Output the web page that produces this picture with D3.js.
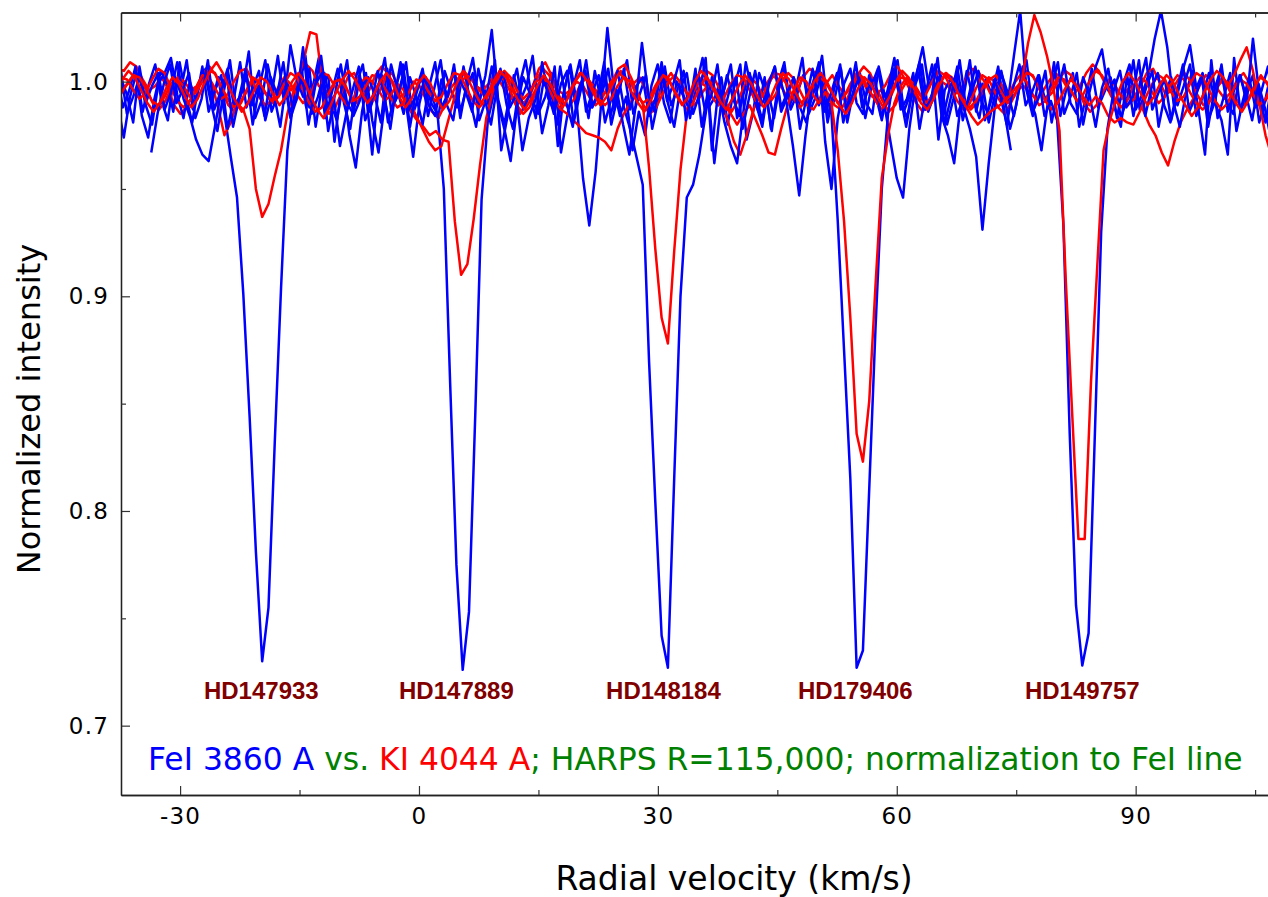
<!DOCTYPE html>
<html>
<head>
<meta charset="utf-8">
<script src="https://cdn.jsdelivr.net/npm/d3@7"></script>
<style>
  body { margin: 0; background: white; }
</style>
</head>
<body>
<div id="chart"></div>
<script>
// stars and where their lines sit (km/s)
const stars = ['HD147933', 'HD147889', 'HD148184', 'HD179406', 'HD149757']
const labelVel = [-19.8, 4.7, 30.7, 54.8, 83.3]
const feStart = [-37.86, -37.96, -38.26, -38.26, -33.62]
const kStart = [-37.86, -38.16, -38.26, -38.26, -38.06]
const velStep = 0.79

const xTicks = [-30, 0, 30, 60, 90]
const xMinor = [-15, 15, 45, 75, 105]
const yTicks = [0.7, 0.8, 0.9, 1.0]
const yMinor = [0.75, 0.85, 0.95]

// FeI 3860 A, normalized intensity
const fe147933 = [
  0.990, 0.974, 0.993, 1.004, 0.986, 0.999, 1.008, 0.991, 0.982, 1.003,
  0.995, 1.010, 0.987, 0.998, 1.006, 0.990, 1.002, 0.985, 0.965,
  0.946, 0.901, 0.844, 0.781, 0.730, 0.755, 0.832, 0.904, 0.968, 0.992,
  1.004, 0.988, 0.997, 1.011, 0.983, 0.994, 1.006, 0.990, 0.978, 0.999,
  1.008, 0.986, 0.995, 1.003, 0.981, 0.992, 1.009, 0.987, 0.965, 0.990,
  1.002, 0.994, 0.983, 1.005, 0.996, 0.988, 1.007, 0.992, 0.979, 1.000,
  0.989, 1.010, 0.968, 0.984, 1.003, 0.991, 0.998, 1.012, 0.986, 0.993,
  1.004, 0.970, 0.996, 1.008, 0.990, 0.955, 0.933, 0.958, 0.994, 1.006,
  0.987, 0.999, 1.010, 0.985, 0.994, 1.003, 0.978, 0.992, 1.007, 0.989,
  0.996, 1.005, 0.983, 0.998, 1.011, 0.988, 0.993, 1.002, 0.980, 0.997,
  1.008, 0.973, 0.985, 1.004, 0.995, 0.977, 0.999, 1.009, 0.987, 0.994,
  1.003, 0.989, 0.998, 1.012, 0.984, 0.992, 1.006, 0.981, 0.996, 1.004,
  0.990, 0.985, 1.007, 0.993, 0.999, 1.010, 0.986, 0.994, 1.003, 1.016,
  0.997, 1.008, 0.984, 0.975, 0.962, 0.989, 1.005, 0.992, 0.983, 1.001,
  0.994, 1.007, 0.986, 0.968
]
const fe147889 = [
  1.003, 0.988, 0.996, 1.007, 0.984, 0.974, 0.992, 1.005, 0.999, 0.986,
  1.009, 0.993, 0.981, 0.998, 1.004, 0.990, 0.977, 0.995, 1.010, 0.987,
  0.996, 1.014, 0.983, 0.991, 1.008, 0.994, 0.979, 1.001, 0.988, 0.997,
  1.012, 0.985, 0.993, 1.004, 0.990, 0.982, 0.999, 0.975, 0.960, 0.986,
  1.002, 0.994, 0.981, 1.006, 0.989, 0.997, 1.009, 0.984, 0.993, 1.001, 0.990,
  0.985, 0.950, 0.860, 0.775, 0.726, 0.753, 0.845, 0.945, 0.982, 0.995,
  1.006, 0.989, 0.978, 0.998, 1.010, 0.992, 0.985, 1.003, 0.996, 0.980,
  0.994, 1.007, 0.988, 0.999, 0.983, 1.005, 0.991, 1.025, 0.997, 0.984,
  0.993, 0.968, 0.986, 0.975, 0.998, 1.008, 0.990, 0.981, 1.000, 0.994,
  0.987, 1.006, 0.979, 0.996, 0.962, 0.988, 1.003, 0.992, 0.984, 1.009,
  0.995, 0.986, 1.002, 0.978, 0.993, 1.007, 0.989, 0.997, 1.011, 0.985,
  0.992, 1.004, 0.981, 0.996, 1.008, 0.987, 0.994, 1.002, 0.983, 0.998,
  1.006, 0.990, 0.972, 0.955, 0.946, 0.978, 0.999, 1.008, 0.986, 0.994,
  1.003, 0.980, 0.992, 1.010, 0.988, 0.996, 1.005, 0.982, 0.991, 1.004,
  0.995, 0.978, 0.989, 1.007, 0.993, 0.985, 0.968, 0.990, 1.009, 0.984,
  0.997, 1.004, 0.979, 0.992, 1.006, 0.988, 0.995, 1.002, 0.983, 0.999,
  1.008, 0.987, 0.994, 1.003, 1.020, 1.033, 1.016, 0.990, 0.979, 0.995,
  1.005, 0.986, 0.966, 1.010, 0.983, 0.993, 1.004, 0.977, 0.991, 1.002,
  0.988, 0.996, 1.007, 0.985
]
const fe148184 = [
  0.997, 1.006, 0.985, 0.993, 1.002, 0.989, 0.980, 0.999, 1.004, 1.011,
  0.994, 0.983, 1.000, 0.991, 1.007, 0.986, 0.996, 1.003, 0.978, 0.992,
  1.009, 0.988, 0.997, 1.005, 0.982, 0.994, 1.012, 0.990, 1.017, 1.001,
  0.993, 1.006, 0.979, 0.998, 1.003, 0.972, 0.995, 1.010, 0.984, 0.991,
  1.004, 0.982, 0.967, 0.990, 1.008, 0.996, 0.985, 1.002, 0.993, 0.980,
  0.997, 1.009, 0.988, 0.994, 1.005, 0.983, 0.999, 1.011, 0.990, 1.003,
  1.024, 0.992, 0.980, 0.996, 1.006, 0.987, 0.994, 1.001, 0.976, 0.989,
  1.007, 0.967, 0.984, 0.998, 1.010, 0.986, 0.995, 1.003, 0.981, 0.992,
  1.005, 0.988, 0.978, 0.965, 0.952, 0.870, 0.804, 0.742, 0.727, 0.815,
  0.900, 0.946, 0.952, 0.966, 0.985, 1.002, 0.989, 0.997, 1.008, 0.983,
  0.994, 1.004, 0.990, 0.979, 0.998, 1.007, 0.986, 0.993, 1.002, 0.988,
  0.981, 0.996, 1.009, 0.972, 0.950, 0.983, 0.999, 1.006, 0.990, 0.985,
  1.003, 0.994, 0.982, 0.997, 1.011, 0.987, 0.992, 1.004, 0.978, 0.995,
  1.008, 0.973, 0.996, 1.002, 0.984, 0.993, 1.010, 0.986, 0.999, 0.981,
  0.994, 1.005, 0.990, 1.012, 1.033, 0.996, 0.984, 1.003, 0.991, 0.998,
  1.009, 0.985, 0.993, 1.004, 0.980, 0.995, 1.007, 1.015, 0.996, 1.001,
  0.983, 0.992, 1.010, 0.987, 0.997, 1.005, 0.979, 0.994, 1.002, 0.989,
  0.998, 1.008, 0.984, 0.993, 1.004, 0.990, 0.982, 0.966, 1.011, 0.986,
  0.995, 1.003, 0.981, 0.992, 1.006
]
const fe179406 = [
  0.985, 1.002, 0.994, 0.981, 1.007, 0.990, 0.998, 1.004, 0.987, 0.995,
  1.009, 0.992, 0.984, 0.973, 0.966, 0.963, 0.979, 0.996, 1.006, 0.989,
  0.993, 1.003, 0.980, 0.997, 1.010, 0.986, 0.994, 1.001, 0.983, 0.992,
  1.016, 0.988, 0.999, 1.004, 0.977, 0.993, 1.008, 0.990, 0.985, 1.002,
  0.995, 0.966, 0.998, 1.011, 0.987, 0.993, 1.003, 0.979, 0.996, 1.006,
  0.989, 0.984, 1.001, 0.993, 1.008, 0.986, 0.997, 1.004, 0.982, 0.991,
  1.007, 0.990, 0.978, 0.963, 0.988, 1.002, 0.995, 0.983, 1.009, 0.992,
  0.986, 0.999, 1.005, 0.981, 0.994, 1.010, 0.988, 0.996, 1.003, 0.980,
  0.993, 1.006, 0.987, 0.998, 1.002, 0.984, 0.992, 1.009, 0.990, 0.979,
  0.997, 1.004, 0.985, 0.994, 1.011, 0.968, 0.996, 0.981, 0.970, 0.962,
  0.986, 1.003, 0.993, 0.982, 0.999, 1.007, 0.988, 0.995, 1.002, 0.978,
  0.992, 1.006, 0.989, 0.996, 0.985, 0.935, 0.875, 0.815, 0.727, 0.735,
  0.810, 0.885, 0.950, 0.985, 1.004, 0.991, 0.983, 0.998, 1.009, 0.987,
  0.994, 1.002, 0.980, 0.993, 1.007, 0.988, 0.978, 0.965, 0.931, 0.962,
  0.989, 1.004, 0.995, 0.984, 0.999, 1.010, 0.986, 0.993, 1.005, 0.981,
  0.996, 1.008, 0.990, 0.985, 1.002, 0.994, 0.979, 0.997, 1.006, 0.988,
  0.979, 1.003, 0.984, 0.999, 1.011, 0.987, 0.995, 1.001, 0.982, 0.994,
  1.007, 1.017, 0.997, 1.004, 0.983, 0.991, 1.008, 0.986, 0.996, 1.003,
  0.990, 1.020, 0.994, 0.981, 0.999
]
const fe149757 = [
  0.967, 0.985, 0.999, 1.008, 0.990, 0.996, 1.004, 0.983, 0.992, 1.010,
  0.987, 0.995, 1.003, 0.979, 0.993, 1.006, 0.989, 0.998, 0.984, 1.002,
  0.994, 1.009, 0.986, 0.991, 1.004, 0.980, 0.997, 1.012, 0.988, 0.993,
  0.970, 0.985, 0.996, 1.007, 0.982, 0.990, 1.005, 0.994, 0.978, 0.999,
  1.008, 0.987, 0.993, 1.003, 0.984, 0.997, 1.010, 0.989, 0.982, 1.001,
  0.995, 0.986, 1.006, 0.992, 0.980, 0.998, 1.004, 0.988, 0.994, 0.968,
  0.983, 0.991, 1.002, 0.996, 0.985, 1.007, 0.990, 0.979, 0.997, 1.005,
  0.988, 0.993, 1.009, 0.984, 0.996, 0.980, 0.966, 0.989, 1.018, 0.994,
  0.986, 1.006, 0.991, 0.999, 1.010, 0.982, 0.995, 1.003, 0.987, 0.993,
  1.008, 0.985, 0.997, 1.002, 0.978, 0.992, 1.005, 0.989, 0.996, 0.983,
  1.001, 0.990, 0.970, 0.947, 0.975, 0.998, 1.007, 0.986, 0.994, 1.004,
  0.981, 0.993, 1.009, 0.988, 0.997, 1.002, 0.984, 0.991, 1.006, 0.995,
  0.979, 0.996, 1.004, 0.987, 0.992, 1.011, 0.985, 0.998, 1.003, 0.982,
  0.994, 1.007, 0.990, 0.986, 1.001, 0.993, 0.980, 0.997, 1.008, 0.989,
  0.995, 1.003, 0.984, 0.991, 0.982, 0.933, 0.836, 0.756, 0.728, 0.743,
  0.836, 0.930, 0.978, 0.996, 1.005, 0.988, 0.993, 1.010, 0.984, 0.997,
  1.004, 0.989, 0.981, 0.995, 1.008, 0.986, 0.993, 1.002, 0.979, 0.996,
  1.006, 0.990, 0.985, 1.003, 0.994, 0.982, 0.999, 0.988, 0.973
]

// KI 4044 A, normalized intensity
const k147933 = [
  1.006, 1.005, 1.009, 1.007, 1.001, 0.996, 0.998, 1.002, 0.997, 0.989,
  0.985, 0.988, 0.994, 1.000, 1.004, 0.999, 0.988, 0.975, 0.981, 0.990,
  0.987, 0.978, 0.950, 0.937, 0.943, 0.956, 0.968, 0.985, 0.996, 1.004,
  1.008, 1.005, 0.998, 0.995, 0.997, 1.001, 1.000, 0.993, 0.990, 0.994,
  0.996, 1.003, 1.007, 1.004, 0.997, 0.993, 0.995, 1.000, 0.998, 0.992,
  0.986, 0.983, 0.989, 0.997, 1.001, 1.005, 1.002, 0.998, 0.996, 0.999,
  1.003, 0.999, 0.994, 0.991, 0.985, 0.990, 0.998, 1.006, 1.009, 1.003,
  0.996, 0.994, 0.996, 1.000, 0.998, 0.993, 0.989, 0.992, 0.998, 1.002,
  1.005, 1.001, 0.999, 1.002, 0.996, 0.990, 0.993, 1.000, 1.004, 0.999,
  0.993, 0.988, 0.990, 0.995, 0.999, 0.996, 0.990, 0.982, 0.972, 0.966,
  0.975, 0.986, 0.994, 0.998, 1.003, 1.001, 0.995, 0.991, 0.996, 1.002,
  1.006, 1.004, 0.999, 0.994, 0.989, 0.987, 0.992, 0.999, 1.003, 0.997,
  0.993, 0.995, 0.998, 1.004, 1.007, 1.002, 0.996, 0.990, 0.986, 0.991,
  0.997, 1.000, 0.998, 0.994, 0.996, 1.002, 1.006, 1.004, 0.999, 0.993,
  0.988, 0.985, 0.990, 0.996, 0.998, 0.995, 0.992, 0.995, 1.000, 1.004,
  1.002, 0.997, 0.994, 0.998, 1.004, 1.008, 1.005, 0.999, 0.993, 0.990,
  0.994, 0.998, 0.993, 0.987, 0.980, 0.975, 0.967, 0.961, 0.972, 0.981,
  0.987, 0.992, 0.998, 1.003, 1.001, 0.996, 0.992, 0.995, 1.001, 1.004,
  0.999, 0.992, 0.988, 0.994, 1.001
]
const k147889 = [
  0.993, 0.995, 0.999, 1.003, 1.001, 0.996, 0.990, 0.987, 0.991, 0.998,
  1.002, 1.000, 0.996, 0.998, 1.004, 1.007, 1.003, 0.996, 0.989, 0.986,
  0.990, 0.996, 1.001, 0.999, 0.994, 0.990, 0.993, 0.998, 0.996, 1.001,
  1.010, 1.023, 1.022, 0.998, 0.985, 0.988, 0.995, 1.002, 1.004, 0.999,
  0.993, 0.991, 0.995, 1.002, 1.004, 0.998, 0.991, 0.986, 0.982, 0.979,
  0.975, 0.977, 0.973, 0.972, 0.935, 0.910, 0.915, 0.936, 0.961, 0.983,
  0.995, 1.002, 1.004, 0.999, 0.992, 0.990, 0.994, 1.001, 1.006, 1.003,
  0.997, 0.991, 0.988, 0.992, 0.999, 1.002, 0.998, 0.993, 0.995, 1.000,
  1.006, 1.008, 1.002, 0.995, 0.989, 0.985, 0.988, 0.994, 1.000, 1.003,
  0.999, 0.994, 0.996, 1.001, 1.005, 1.003, 0.997, 0.990, 0.986, 0.991,
  0.998, 1.002, 0.999, 0.993, 0.990, 0.994, 1.000, 1.004, 1.001, 0.995,
  0.989, 0.987, 0.992, 0.999, 1.003, 0.998, 0.994, 0.997, 1.003, 1.007,
  1.004, 0.997, 0.991, 0.986, 0.989, 0.996, 1.001, 0.999, 0.994, 0.990,
  0.993, 0.999, 1.004, 1.002, 0.996, 0.991, 0.987, 0.990, 0.996, 1.001,
  1.003, 0.998, 0.992, 0.994, 1.000, 1.005, 1.002, 0.996, 0.992, 0.995,
  1.001, 1.005, 1.003, 0.997, 0.990, 0.986, 0.989, 0.995, 1.001, 0.998,
  0.993, 0.989, 0.992, 0.998, 1.004, 1.006, 1.000, 0.994, 0.996, 1.001,
  1.004, 1.000, 0.994, 0.989, 0.991, 0.997, 1.002, 0.999, 0.993, 0.988,
  0.991, 0.997, 1.002, 1.000, 0.995
]
const k148184 = [
  0.998, 1.002, 1.001, 0.996, 0.992, 0.995, 1.001, 1.006, 1.004, 0.997,
  0.991, 0.988, 0.991, 0.997, 1.003, 1.002, 0.997, 0.992, 0.994, 1.000,
  1.005, 1.006, 1.000, 0.993, 0.989, 0.991, 0.997, 1.002, 0.999, 0.994,
  0.990, 0.993, 1.000, 1.004, 1.003, 0.998, 0.993, 0.989, 0.992, 0.999,
  1.002, 1.000, 0.996, 0.991, 0.994, 0.999, 0.996, 0.990, 0.984, 0.978,
  0.972, 0.968, 0.970, 0.981, 0.992, 0.999, 1.003, 1.001, 0.996, 0.993,
  0.996, 1.002, 1.005, 1.002, 0.996, 0.992, 0.995, 1.000, 1.002, 0.997,
  0.991, 0.987, 0.985, 0.982, 0.979, 0.976, 0.975, 0.974, 0.972, 0.968,
  0.978, 0.985, 0.990, 0.994, 0.990, 0.960, 0.922, 0.890, 0.878, 0.921,
  0.959, 0.985, 0.995, 1.000, 0.998, 0.993, 0.989, 0.993, 0.999, 1.003,
  1.002, 0.996, 0.991, 0.993, 0.999, 1.004, 1.003, 0.998, 0.992, 0.988,
  0.991, 0.997, 1.002, 1.000, 0.995, 0.990, 0.993, 0.999, 1.004, 1.002,
  0.996, 0.991, 0.987, 0.990, 0.997, 1.002, 1.001, 0.996, 0.991, 0.994,
  1.000, 1.005, 1.003, 0.997, 0.991, 0.987, 0.990, 0.997, 1.003, 1.001,
  0.995, 0.990, 0.993, 0.999, 1.003, 1.000, 0.994, 0.989, 0.991, 0.997,
  1.002, 1.001, 0.996, 0.991, 0.994, 1.000, 1.005, 1.003, 0.997, 0.992,
  0.988, 0.991, 0.998, 1.002, 1.000, 0.995, 0.990, 0.993, 0.999, 1.003,
  1.001, 0.995, 0.990, 0.987, 0.990, 0.996, 1.000, 0.998, 1.003, 1.010,
  1.016, 1.005, 0.990, 0.975, 0.965
]
const k179406 = [
  0.992, 0.994, 0.999, 1.003, 1.002, 0.997, 0.991, 0.989, 0.993, 0.999,
  1.001, 0.998, 0.993, 0.995, 1.000, 1.005, 1.004, 0.998, 0.992, 0.988,
  0.990, 0.996, 1.002, 1.000, 0.995, 0.991, 0.993, 0.999, 1.004, 1.002,
  0.996, 0.990, 0.986, 0.988, 0.994, 1.000, 1.001, 0.996, 0.991, 0.993,
  0.998, 1.003, 1.002, 0.997, 0.992, 0.988, 0.990, 0.996, 1.001, 1.000,
  0.995, 0.991, 0.993, 0.999, 1.004, 1.003, 0.997, 0.991, 0.988, 0.991,
  0.997, 1.002, 1.001, 0.995, 0.989, 0.985, 0.988, 0.995, 1.001, 1.000,
  0.995, 0.991, 0.993, 0.999, 1.004, 1.003, 0.997, 0.992, 0.989, 0.992,
  0.998, 1.002, 1.000, 0.994, 0.990, 0.992, 0.998, 1.003, 1.002, 0.996,
  0.991, 0.987, 0.990, 0.997, 1.002, 0.999, 0.993, 0.989, 0.985, 0.980,
  0.985, 0.989, 0.982, 0.975, 0.967, 0.966, 0.978, 0.989, 0.996, 1.002,
  1.000, 0.994, 0.990, 0.995, 0.990, 0.968, 0.935, 0.890, 0.836, 0.823,
  0.851, 0.905, 0.955, 0.975, 0.990, 0.998, 1.002, 0.999, 0.994, 0.990,
  0.993, 0.999, 1.003, 1.001, 0.996, 0.991, 0.988, 0.991, 0.997, 1.002,
  1.000, 0.995, 0.990, 0.993, 0.999, 1.004, 1.003, 0.997, 0.991, 0.987,
  0.990, 0.996, 1.001, 0.998, 0.993, 0.989, 0.993, 0.990, 0.984, 0.981,
  0.983, 0.981, 0.980, 0.986, 0.993, 0.999, 1.003, 1.001, 0.995, 0.991,
  0.993, 0.999, 1.004, 1.002, 0.996, 0.991, 0.987, 0.990, 0.997, 1.001,
  0.999, 0.994, 0.989, 0.992, 0.998
]
const k149757 = [
  0.996, 1.001, 1.005, 1.002, 0.996, 0.990, 0.986, 0.990, 0.997, 1.002,
  0.999, 0.993, 0.988, 0.992, 0.999, 1.005, 1.009, 1.004, 0.997, 0.991,
  0.986, 0.990, 0.996, 1.002, 1.000, 0.994, 0.989, 0.993, 1.000, 1.004,
  1.000, 0.993, 0.987, 0.983, 0.988, 0.995, 1.001, 1.005, 1.001, 0.995,
  0.990, 0.994, 1.000, 1.004, 1.000, 0.993, 0.988, 0.992, 0.999, 1.003,
  0.999, 0.992, 0.987, 0.991, 0.998, 1.004, 1.001, 0.995, 0.990, 0.994,
  1.000, 1.005, 1.002, 0.996, 0.991, 0.987, 0.992, 0.998, 1.003, 0.999,
  0.993, 0.988, 0.993, 1.000, 1.004, 1.000, 0.994, 0.989, 0.993, 0.999,
  1.004, 1.001, 0.995, 0.990, 0.986, 0.991, 0.998, 1.003, 1.000, 0.994,
  0.989, 0.993, 1.000, 1.005, 1.002, 0.996, 0.991, 0.987, 0.992, 0.998,
  1.003, 0.999, 0.993, 0.988, 0.992, 0.999, 1.004, 1.001, 0.995, 0.990,
  0.994, 1.000, 1.004, 1.000, 0.994, 0.989, 0.985, 0.990, 0.997, 1.002,
  0.999, 0.993, 0.988, 0.993, 1.000, 1.005, 1.002, 0.996, 0.990, 0.987,
  0.992, 0.999, 1.004, 1.000, 0.994, 0.989, 0.984, 0.980, 0.983, 0.986,
  0.988, 0.990, 0.993, 0.997, 1.000, 1.018, 1.031, 1.023, 1.012, 0.998,
  0.977, 0.907, 0.846, 0.787, 0.787, 0.860, 0.914, 0.968, 0.982, 0.992,
  1.000, 1.004, 1.000, 0.994, 0.989, 0.993, 0.999, 1.003, 1.000, 0.994,
  0.989, 0.984, 0.988, 0.995, 1.001, 1.005, 1.002, 0.996, 0.990, 0.986,
  0.991, 0.997, 1.003, 0.999, 0.993
]

const feSeries = [fe147933, fe147889, fe148184, fe179406, fe149757]
const kSeries = [k147933, k147889, k148184, k179406, k149757]

const width = 1268
const height = 897
const plotLeft = 121
const plotRight = 1268
const plotTop = 12.5
const plotBottom = 795

const xScale = d3.scaleLinear().domain([-37.42, 106.62]).range([plotLeft, plotRight])
const yScale = d3.scaleLinear().domain([0.6677, 1.0322]).range([plotBottom, plotTop])

const svg = d3.select('#chart').append('svg')
    .attr('width', width)
    .attr('height', height)

svg.append('rect')
    .attr('width', width)
    .attr('height', height)
    .attr('fill', 'white')

svg.append('defs').append('clipPath')
    .attr('id', 'plotClip')
    .append('rect')
    .attr('x', plotLeft)
    .attr('y', plotTop)
    .attr('width', plotRight - plotLeft)
    .attr('height', plotBottom - plotTop)

const lineGroup = svg.append('g')
    .attr('clip-path', 'url(#plotClip)')

const valueline = d3.line()
    .x(function(d) { return xScale(d.v) })
    .y(function(d) { return yScale(d.y) })

function toPoints(values, start) {
    return values.map(function(y, i) { return { v: start + i * velStep, y: y } })
}

stars.forEach(function(name, s) {
    lineGroup.append('path')
        .datum(toPoints(feSeries[s], feStart[s]))
        .attr('stroke', '#0000ff')
        .attr('stroke-width', 2.5)
        .attr('stroke-linejoin', 'round')
        .attr('fill', 'none')
        .attr('d', valueline)
    lineGroup.append('path')
        .datum(toPoints(kSeries[s], kStart[s]))
        .attr('stroke', '#ff0000')
        .attr('stroke-width', 2.5)
        .attr('stroke-linejoin', 'round')
        .attr('fill', 'none')
        .attr('d', valueline)
})

// star names under the lines
svg.append('g').selectAll('text')
    .data(stars)
    .join('text')
    .attr('x', function(d, i) { return xScale(labelVel[i]) })
    .attr('y', yScale(0.7125))
    .attr('text-anchor', 'middle')
    .attr('font-family', 'Liberation Sans, Arial, sans-serif')
    .attr('font-weight', 'bold')
    .attr('font-size', 24)
    .attr('fill', '#800000')
    .text(function(d) { return d })

// axes, ticks pointing inwards
function styleAxis(g) {
    g.attr('font-family', 'DejaVu Sans, sans-serif').attr('font-size', 23)
    g.select('.domain').attr('stroke', '#222').attr('stroke-width', 1.3)
    g.selectAll('.tick line').attr('stroke', '#333').attr('stroke-width', 1.2)
    g.selectAll('.tick text').attr('fill', '#000').attr('letter-spacing', 1.2)
}

svg.append('g')
    .attr('transform', 'translate(0,' + plotBottom + ')')
    .call(d3.axisBottom(xScale).tickValues(xTicks).tickSize(-9).tickSizeOuter(0)
        .tickPadding(13).tickFormat(function(d) { return String(d) }))
    .call(styleAxis)
svg.append('g')
    .attr('transform', 'translate(0,' + plotBottom + ')')
    .call(d3.axisBottom(xScale).tickValues(xMinor).tickSize(-5).tickSizeOuter(0).tickFormat(''))
    .call(styleAxis)
svg.append('g')
    .attr('transform', 'translate(0,' + plotTop + ')')
    .call(d3.axisTop(xScale).tickValues(xTicks).tickSize(-9).tickSizeOuter(0).tickFormat(''))
    .call(styleAxis)
svg.append('g')
    .attr('transform', 'translate(0,' + plotTop + ')')
    .call(d3.axisTop(xScale).tickValues(xMinor).tickSize(-5).tickSizeOuter(0).tickFormat(''))
    .call(styleAxis)
svg.append('g')
    .attr('transform', 'translate(' + plotLeft + ',0)')
    .call(d3.axisLeft(yScale).tickValues(yTicks).tickSize(-9).tickSizeOuter(0)
        .tickPadding(12).tickFormat(d3.format('.1f')))
    .call(styleAxis)
svg.append('g')
    .attr('transform', 'translate(' + plotLeft + ',0)')
    .call(d3.axisLeft(yScale).tickValues(yMinor).tickSize(-5).tickSizeOuter(0).tickFormat(''))
    .call(styleAxis)

// titles
svg.append('text')
    .attr('x', 734)
    .attr('y', 890)
    .attr('text-anchor', 'middle')
    .attr('font-family', 'DejaVu Sans, sans-serif')
    .attr('font-size', 33)
    .text('Radial velocity (km/s)')

svg.append('text')
    .attr('transform', 'translate(40,' + 409 + ') rotate(-90)')
    .attr('text-anchor', 'middle')
    .attr('font-family', 'DejaVu Sans, sans-serif')
    .attr('font-size', 32)
    .text('Normalized intensity')

const note = svg.append('text')
    .attr('x', 148)
    .attr('y', 770)
    .attr('font-family', 'DejaVu Sans, sans-serif')
    .attr('font-size', 31.4)
note.append('tspan').attr('fill', '#0000ff').text('FeI 3860 A')
note.append('tspan').attr('fill', '#008000').text(' vs. ')
note.append('tspan').attr('fill', '#ff0000').text('KI 4044 A')
note.append('tspan').attr('fill', '#008000').text('; HARPS R=115,000; normalization to FeI line')
</script>
</body>
</html>
